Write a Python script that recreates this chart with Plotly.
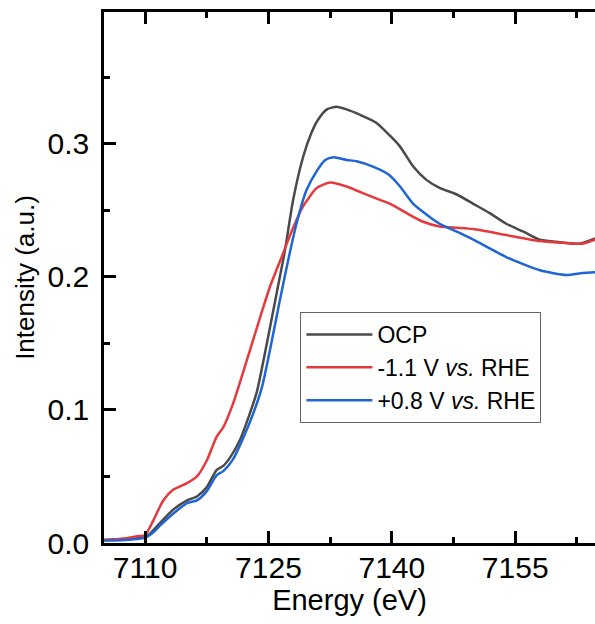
import plotly.graph_objects as go

# ---- data ----
ocp_e = [7104.5, 7107, 7109, 7110, 7110.6, 7111.8, 7113.4, 7115.1, 7116.3, 7117.5, 7118.7, 7119.5,
         7120.3, 7121.5, 7122.6, 7123.6, 7124.8, 7126.0, 7127.0, 7128.0, 7129.2, 7130.2, 7131.0,
         7132.1, 7133.3, 7134.5, 7136.1, 7138.1, 7139.8, 7141.0, 7142.6, 7144.2, 7145.8, 7147.9,
         7149.9, 7151.9, 7153.9, 7156.0, 7158.0, 7160.0, 7162.8, 7164.7]
ocp_i = [0.002, 0.003, 0.004, 0.005, 0.007, 0.015, 0.025, 0.032, 0.035, 0.042, 0.055, 0.058,
         0.064, 0.077, 0.095, 0.114, 0.150, 0.188, 0.220, 0.258, 0.290, 0.308, 0.318,
         0.326, 0.328, 0.326, 0.322, 0.316, 0.306, 0.298, 0.283, 0.273, 0.267, 0.262,
         0.255, 0.248, 0.240, 0.234, 0.228, 0.2265, 0.225, 0.229]

neg_e = [7104.5, 7107, 7109, 7110, 7111.0, 7112.2, 7113.4, 7115.1, 7116.3, 7117.5, 7118.7, 7119.5,
         7120.7, 7122.4, 7124.0, 7125.2, 7126.6, 7127.6, 7129.2, 7130.9, 7132.5, 7134.5, 7135.7,
         7137.7, 7139.8, 7141.8, 7143.8, 7145.8, 7147.9, 7149.9, 7153.9, 7158.0, 7161.2, 7163.2, 7164.7]
neg_i = [0.002, 0.003, 0.005, 0.006, 0.017, 0.032, 0.040, 0.045, 0.050, 0.062, 0.080, 0.087,
         0.105, 0.138, 0.170, 0.193, 0.215, 0.231, 0.253, 0.267, 0.271, 0.268, 0.265,
         0.260, 0.255, 0.248, 0.2415, 0.238, 0.237, 0.236, 0.2315, 0.227, 0.2255, 0.225, 0.228]

pos_e = [7104.5, 7107, 7109, 7110, 7111, 7111.8, 7113.4, 7115.1, 7116.3, 7117.5, 7118.7, 7119.5,
         7120.7, 7122.0, 7123.0, 7124.2, 7125.6, 7126.4, 7127.2, 7128.4, 7129.6, 7130.9, 7131.9,
         7132.9, 7134.5, 7135.7, 7137.7, 7139.6, 7141.0, 7142.6, 7144.2, 7145.8, 7147.9, 7149.9,
         7153.9, 7158.0, 7161.2, 7163.2, 7164.7]
pos_i = [0.002, 0.002, 0.003, 0.004, 0.008, 0.013, 0.022, 0.030, 0.032, 0.039, 0.051, 0.054,
         0.063, 0.080, 0.095, 0.117, 0.158, 0.183, 0.207, 0.240, 0.265, 0.280, 0.288,
         0.290, 0.288, 0.287, 0.283, 0.277, 0.268, 0.255, 0.247, 0.240, 0.234, 0.228,
         0.215, 0.205, 0.2015, 0.203, 0.2035]

names = ["OCP", "-1.1 V <i>vs.</i> RHE", "+0.8 V <i>vs.</i> RHE"]
colors = ["#4a4a4a", "#e6393e", "#1f65d3"]

x_ticks = [7110, 7125, 7140, 7155]
y_ticks = [0.0, 0.1, 0.2, 0.3]
y_ticklabels = ["0.0", "0.1", "0.2", "0.3"]

FONT = "Arial, Liberation Sans, sans-serif"

fig = go.Figure()
for e, i, n, c in zip([ocp_e, neg_e, pos_e], [ocp_i, neg_i, pos_i], names, colors):
    fig.add_trace(go.Scatter(x=e, y=i, name=n, mode="lines",
                             line=dict(color=c, width=2.5, shape="spline", smoothing=0.6)))

fig.update_layout(
    width=595, height=624,
    margin=dict(l=104, r=0, t=12, b=81, autoexpand=False),
    paper_bgcolor="white", plot_bgcolor="white",
    font=dict(family=FONT, color="black"),
    showlegend=True,
    legend=dict(x=0.40, y=0.435, xanchor="left", yanchor="top",
                bordercolor="#666666", borderwidth=1, bgcolor="white",
                font=dict(size=23, family=FONT), itemwidth=66,
                tracegroupgap=0),
)
fig.update_xaxes(
    range=[7105.0, 7164.7], tickmode="array", tickvals=x_ticks,
    ticks="inside", ticklen=12, tickwidth=2.5, tickcolor="black",
    showline=True, linewidth=2.5, linecolor="black", mirror="allticks",
    showgrid=False, zeroline=False, automargin=False,
    tickfont=dict(size=30, family=FONT), ticklabelstandoff=-4,
    minor=dict(dtick=7.5, tick0=7110, ticks="inside", ticklen=6, tickwidth=2.5, tickcolor="black", showgrid=False),
    title=dict(text="Energy (eV)", font=dict(size=29, family=FONT), standoff=3),
)
fig.update_yaxes(
    range=[0, 0.3992], tickmode="array", tickvals=y_ticks, ticktext=y_ticklabels,
    ticks="inside", ticklen=12, tickwidth=2.5, tickcolor="black",
    showline=True, linewidth=2.5, linecolor="black", mirror=False,
    showgrid=False, zeroline=False, automargin=False,
    tickfont=dict(size=30, family=FONT), ticklabelstandoff=6,
    minor=dict(dtick=0.05, tick0=0, ticks="inside", ticklen=6, tickwidth=2.5, tickcolor="black", showgrid=False),
    title=dict(text="Intensity (a.u.)", font=dict(size=26, family=FONT), standoff=6),
)

fig.write_html("out.html", config={"displayModeBar": False},
               post_script="document.body.style.margin='0';document.body.style.padding='0';")
